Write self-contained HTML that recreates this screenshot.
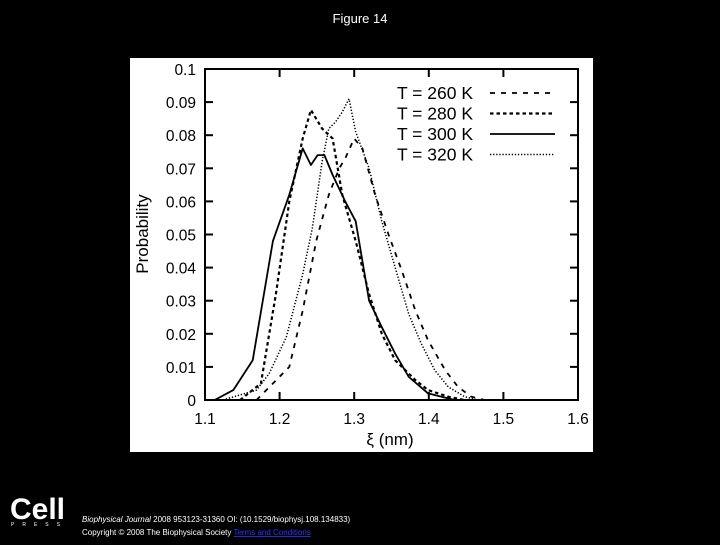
<!DOCTYPE html>
<html><head><meta charset="utf-8"><style>
body{margin:0;background:#000;width:720px;height:540px;overflow:hidden;font-family:"Liberation Sans",sans-serif}
</style></head><body>
<svg width="720" height="540" xmlns="http://www.w3.org/2000/svg">
<text x="360" y="23" fill="#fff" font-size="13" text-anchor="middle">Figure 14</text>
<rect x="130" y="58" width="463" height="394" fill="#fff"/>
<g id="axes"></g>
<g id="series"></g>
<g id="legend"></g>
<text transform="translate(148,234) rotate(-90)" font-size="17" text-anchor="middle">Probability</text>
<text x="390" y="445" font-size="17" text-anchor="middle">ξ (nm)</text>
<text x="10" y="519" fill="#fff" font-size="30" font-weight="bold">Cell</text>
<text x="11" y="526" fill="#fff" font-size="5" letter-spacing="8">PRESS</text>
<text x="82" y="522" fill="#fff" font-size="8"><tspan font-style="italic">Biophysical Journal</tspan> 2008 953123-31360 OI: (10.1529/biophysj.108.134833)</text>
<text x="82" y="535" fill="#fff" font-size="8">Copyright © 2008 The Biophysical Society <tspan fill="#33f" text-decoration="underline">Terms and Conditions</tspan></text>
</svg>
<script>
const xTicks=[1.1,1.2,1.3,1.4,1.5,1.6];
const yTicks=[0,0.01,0.02,0.03,0.04,0.05,0.06,0.07,0.08,0.09,0.1];
const yTickLabels=["0","0.01","0.02","0.03","0.04","0.05","0.06","0.07","0.08","0.09","0.1"];
const legendLabels=["T = 260 K","T = 280 K","T = 300 K","T = 320 K"];
const x260=[1.169,1.213,1.231,1.249,1.266,1.280,1.288,1.300,1.311,1.328,1.346,1.364,1.382,1.399,1.422,1.439,1.457,1.475];
const y260=[0,0.010,0.027,0.048,0.062,0.070,0.073,0.079,0.076,0.062,0.050,0.039,0.027,0.018,0.009,0.004,0.001,0];
const x280=[1.147,1.175,1.195,1.213,1.231,1.242,1.257,1.271,1.284,1.302,1.320,1.337,1.355,1.382,1.399,1.426,1.448];
const y280=[0,0.005,0.032,0.060,0.079,0.0876,0.082,0.079,0.062,0.048,0.032,0.020,0.012,0.006,0.003,0.001,0];
const x300=[1.113,1.138,1.164,1.191,1.213,1.231,1.242,1.251,1.260,1.271,1.288,1.302,1.320,1.337,1.355,1.373,1.399,1.417,1.435];
const y300=[0,0.003,0.012,0.048,0.062,0.076,0.071,0.074,0.074,0.068,0.060,0.054,0.030,0.022,0.014,0.007,0.002,0.001,0];
const x320=[1.124,1.169,1.186,1.209,1.231,1.244,1.257,1.266,1.275,1.284,1.293,1.302,1.320,1.337,1.355,1.373,1.390,1.408,1.426,1.448,1.466];
const y320=[0,0.003,0.008,0.019,0.038,0.052,0.072,0.082,0.084,0.087,0.091,0.081,0.070,0.054,0.040,0.026,0.017,0.009,0.004,0.001,0];
const NS="http://www.w3.org/2000/svg";
const L=205,R=578,T=69,B=400;
const sx=v=>L+(v-1.1)/0.5*(R-L);
const sy=v=>B-v/0.1*(B-T);
function mk(tag,attrs,parent){const e=document.createElementNS(NS,tag);for(const k in attrs)e.setAttribute(k,attrs[k]);parent.appendChild(e);return e;}
const ax=document.getElementById('axes');
const frame=mk('rect',{x:L,y:T,width:R-L,height:B-T,fill:'none',stroke:'#000','stroke-width':2},ax);


xTicks.forEach(v=>{
  const x=sx(v);
  const t1=mk('line',{x1:x,x2:x,y1:B,y2:B-8,stroke:'#000','stroke-width':2},ax);
  
  
  const t2=mk('line',{x1:x,x2:x,y1:T,y2:T+8,stroke:'#000','stroke-width':2},ax);
  
  
  const tx=mk('text',{x:x,y:B+24,'font-size':15.5,'text-anchor':'middle'},ax);
  tx.textContent=String(v);
  
  
});
yTicks.forEach((v,i)=>{
  const y=sy(v);
  const t1=mk('line',{x1:L,x2:L+8,y1:y,y2:y,stroke:'#000','stroke-width':2},ax);
  
  
  const t2=mk('line',{x1:R,x2:R-8,y1:y,y2:y,stroke:'#000','stroke-width':2},ax);
  
  
  const tx=mk('text',{x:L-9,y:y+6,'font-size':15.5,'text-anchor':'end'},ax);
  tx.textContent=yTickLabels[i];
  
  
});
const styles=[{d:'5,6',w:1.8},{d:'3.5,3',w:2.2},{d:'',w:1.8},{d:'1.3,1.8',w:1.5}];
const data=[[x260,y260],[x280,y280],[x300,y300],[x320,y320]];
const names=['line-260k','line-280k','line-300k','line-320k'];
const sg=document.getElementById('series');
data.forEach((s,i)=>{
  const d=s[0].map((x,j)=>(j?'L':'M')+sx(x).toFixed(1)+','+sy(s[1][j]).toFixed(1)).join(' ');
  const p=mk('path',{d:d,fill:'none',stroke:'#000','stroke-width':styles[i].w,'stroke-dasharray':styles[i].d,'stroke-linejoin':'round'},sg);
  
  
});
const lg=document.getElementById('legend');
legendLabels.forEach((t,i)=>{
  const y=93+i*20.5;
  const tx=mk('text',{x:473,y:y+6,'font-size':17.5,'text-anchor':'end'},lg);
  tx.textContent=t;
  
  
  const ln=mk('line',{x1:490,x2:555,y1:y,y2:y,stroke:'#000','stroke-width':styles[i].w,'stroke-dasharray':styles[i].d},lg);
  
  
});
</script>
</body></html>
